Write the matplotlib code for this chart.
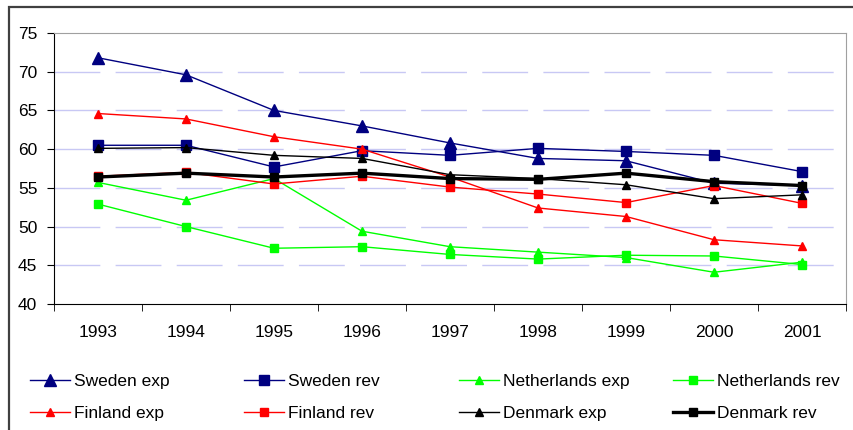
import matplotlib.pyplot as plt
from matplotlib.patches import Rectangle

plt.rcParams['font.family'] = ['Liberation Sans', 'DejaVu Sans']

years = ['1993', '1994', '1995', '1996', '1997', '1998', '1999', '2000', '2001']

# expenditure / revenue series (% of GDP)
sweden_exp = [71.8, 69.6, 65.0, 63.0, 60.8, 58.8, 58.5, 55.6, 55.3]
sweden_rev = [60.5, 60.5, 57.7, 59.8, 59.2, 60.1, 59.7, 59.2, 57.1]
netherlands_exp = [55.7, 53.4, 56.2, 49.4, 47.4, 46.7, 46.0, 44.1, 45.4]
netherlands_rev = [52.9, 50.0, 47.2, 47.4, 46.4, 45.8, 46.3, 46.2, 45.1]
finland_exp = [64.6, 63.9, 61.6, 60.0, 56.4, 52.4, 51.3, 48.3, 47.5]
finland_rev = [56.5, 57.0, 55.5, 56.5, 55.1, 54.2, 53.1, 55.3, 53.0]
denmark_exp = [60.1, 60.2, 59.2, 58.8, 56.7, 56.2, 55.4, 53.6, 54.1]
denmark_rev = [56.4, 56.9, 56.4, 56.9, 56.2, 56.1, 56.9, 55.8, 55.3]

navy = '#000080'
red = '#ff0000'
green = '#00ff00'

fig = plt.figure(figsize=(8.54, 4.30), dpi=100)
ax = fig.add_axes([54 / 854, 126 / 430, 792 / 854, 271 / 430])

# outer chart border
fig.patches.append(Rectangle((9 / 854, -0.1), 1.0, 1.0 - 7 / 430 + 0.1,
                             transform=fig.transFigure, fill=False,
                             edgecolor='#404040', linewidth=1.6))

x = list(range(len(years)))
series = [
    (sweden_exp, 'Sweden exp', navy, '^', 1.0, 8),
    (sweden_rev, 'Sweden rev', navy, 's', 1.0, 7),
    (netherlands_exp, 'Netherlands exp', green, '^', 1.0, 6.3),
    (netherlands_rev, 'Netherlands rev', green, 's', 1.0, 5.5),
    (finland_exp, 'Finland exp', red, '^', 1.0, 6.3),
    (finland_rev, 'Finland rev', red, 's', 1.0, 5.5),
    (denmark_exp, 'Denmark exp', 'black', '^', 1.0, 6.3),
    (denmark_rev, 'Denmark rev', 'black', 's', 2.4, 5.5),
]
lines = {}
for vals, label, col, mk, lw, ms in series:
    ln, = ax.plot(x, vals, color=col, marker=mk, markersize=ms, linewidth=lw,
                  markeredgecolor=col, markerfacecolor=col, label=label)
    lines[label] = ln

ax.set_xlim(-0.5, 8.5)
ax.set_ylim(40, 75)
ax.set_yticks(range(40, 80, 5))
ax.set_xticks(x)
ax.set_xticklabels(years)
ax.set_xticks([i - 0.5 for i in range(10)], minor=True)
ax.tick_params(axis='x', which='major', length=0, pad=15, labelsize=12.5)
ax.tick_params(axis='x', which='minor', length=5, direction='out')
ax.tick_params(axis='y', length=5, direction='out', pad=7, labelsize=12.5)

for gy in range(45, 75, 5):
    ax.axhline(gy, color='#c8c8f4', linewidth=1.0,
               linestyle=(0, (33, 11)), zorder=0)

ax.spines['top'].set_color('#a0a0a0')
ax.spines['right'].set_color('#a0a0a0')
ax.spines['left'].set_color('black')
ax.spines['bottom'].set_color('black')

# legend: four columns, two rows
legend_cols = [['Sweden exp', 'Finland exp'], ['Sweden rev', 'Finland rev'],
               ['Netherlands exp', 'Denmark exp'],
               ['Netherlands rev', 'Denmark rev']]
col_left = [30, 244, 459, 673]
for names, left in zip(legend_cols, col_left):
    leg = fig.legend([lines[k] for k in names], names, loc='upper left',
                     bbox_to_anchor=(left / 854, 1 - 374 / 430),
                     frameon=False, fontsize=12.5, markerscale=1.0,
                     handlelength=2.3, handletextpad=0.25, labelspacing=0.95,
                     borderpad=0, borderaxespad=0)

fig.savefig('out.png', dpi=100)
